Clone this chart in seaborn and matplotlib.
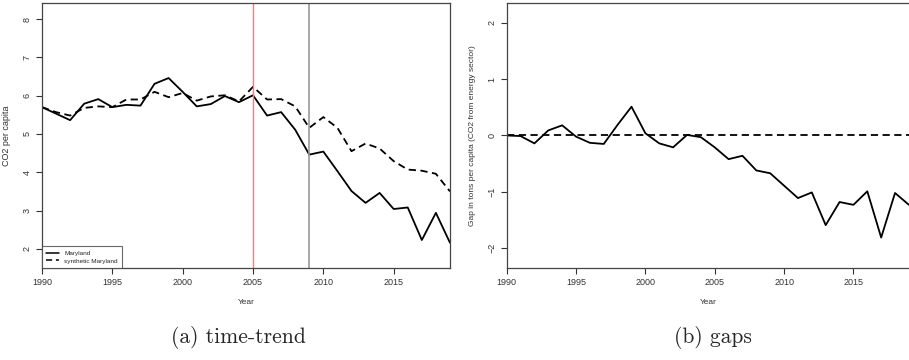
import numpy as np
import pandas as pd
import matplotlib
matplotlib.use("Agg")
import matplotlib.pyplot as plt
import seaborn as sb

years = list(range(1990, 2020))
maryland = [5.70, 5.53, 5.36, 5.79, 5.91, 5.70, 5.76, 5.74, 6.31, 6.46,
            6.10, 5.72, 5.78, 5.99, 5.83, 6.01, 5.48, 5.57, 5.11, 4.46,
            4.54, 4.03, 3.51, 3.20, 3.46, 3.04, 3.08, 2.23, 2.94, 2.16]
synthetic = [5.70, 5.57, 5.48, 5.68, 5.72, 5.70, 5.90, 5.90, 6.10, 5.96,
             6.07, 5.87, 5.98, 6.01, 5.85, 6.23, 5.90, 5.91, 5.72, 5.16,
             5.44, 5.16, 4.55, 4.75, 4.62, 4.29, 4.07, 4.04, 3.96, 3.50]
gaps = [0.00, -0.01, -0.14, 0.09, 0.18, -0.02, -0.13, -0.15, 0.19, 0.51,
        0.04, -0.14, -0.21, 0.01, -0.03, -0.21, -0.42, -0.36, -0.62, -0.67,
        -0.89, -1.11, -1.01, -1.59, -1.18, -1.23, -0.99, -1.81, -1.02, -1.23]
treat_year = 2005
policy_year = 2009
captions = ["(a) time-trend", "(b) gaps"]

sb.set_theme(style="ticks")
plt.rcParams['font.family'] = ['Liberation Sans', 'DejaVu Sans']

df = pd.DataFrame({
    'Year': years * 2,
    'CO2': maryland + synthetic,
    'unit': ['Maryland'] * len(years) + ['synthetic Maryland'] * len(years),
})
df_gap = pd.DataFrame({'Year': years, 'gap': gaps})

fig = plt.figure(figsize=(9.09, 3.6), dpi=100)
ax1 = fig.add_axes([0.0462, 0.2556, 0.4488, 0.7361])
ax2 = fig.add_axes([0.5574, 0.2556, 0.4425, 0.7361])

spine_col = '#444444'
tick_kw = dict(labelsize=6.5, colors='#333333', length=4, width=0.8)

# panel a: trend
sb.lineplot(data=df, x='Year', y='CO2', style='unit', color='black', lw=1.3,
            dashes={'Maryland': '', 'synthetic Maryland': (4, 2.5)}, ax=ax1)
ax1.axvline(treat_year, color='#f08080', lw=1)
ax1.axvline(policy_year, color='#999999', lw=1.2)
ax1.set_xlim(1990, 2019)
ax1.set_ylim(1.5, 8.42)
ax1.set_yticks(range(2, 9))
ax1.set_xticks(range(1990, 2020, 5))
ax1.set_xlabel('Year', fontsize=6, color='#333333', labelpad=8)
ax1.set_ylabel('CO2 per capita', fontsize=6.5, color='#333333', labelpad=8)
leg = ax1.legend(loc='lower left', fontsize=4.6, frameon=True, fancybox=False,
                 borderaxespad=0, handlelength=2.0, borderpad=0.7, labelspacing=0.35,
                 handletextpad=0.8)
leg.get_frame().set_edgecolor(spine_col)
leg.get_frame().set_linewidth(0.8)
for h in leg.get_lines():
    h.set_linewidth(1.1)

# panel b: gaps
sb.lineplot(data=df_gap, x='Year', y='gap', color='black', lw=1.3, ax=ax2)
ax2.axhline(0, color='black', lw=1.3, ls=(0, (4, 2.5)))
ax2.set_xlim(1990, 2019)
ax2.set_ylim(-2.35, 2.35)
ax2.set_yticks(range(-2, 3))
ax2.set_xticks(range(1990, 2020, 5))
ax2.set_xlabel('Year', fontsize=6, color='#333333', labelpad=8)
ax2.set_ylabel('Gap in tons per capita (CO2 from energy sector)', fontsize=6,
               color='#333333', labelpad=8)
ax2.spines['right'].set_visible(False)

for ax in (ax1, ax2):
    ax.tick_params(**tick_kw)
    for lab in ax.get_yticklabels():
        lab.set_rotation(90)
        lab.set_va('center')
    for s in ax.spines.values():
        s.set_color(spine_col)
        s.set_linewidth(0.9)

fig.text(0.262, 0.062, captions[0], ha='center', va='center', fontsize=15.5,
         family=['cmr10', 'DejaVu Serif'])
fig.text(0.784, 0.062, captions[1], ha='center', va='center', fontsize=15.5,
         family=['cmr10', 'DejaVu Serif'])

fig.savefig('out.png', dpi=100)
